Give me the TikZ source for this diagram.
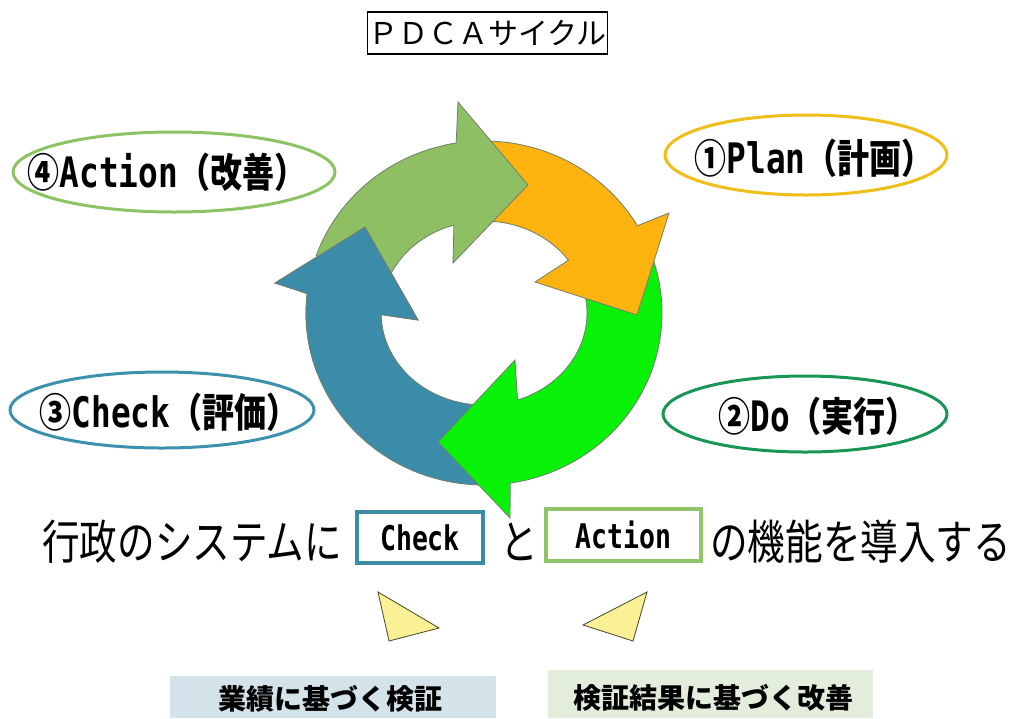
\documentclass[tikz,border=0pt]{standalone}
\usepackage{fontspec}
\usetikzlibrary{shapes.geometric}
\newfontfamily\jpr{Noto Sans CJK JP}
\newfontfamily\jpc{Noto Sans CJK JP}[FakeStretch=0.8]
\newfontfamily\lat{DejaVu Sans Mono}[FakeStretch=0.78]
\definecolor{cLG}{RGB}{142,192,99}
\definecolor{cOR}{RGB}{255,179,15}
\definecolor{cBG}{RGB}{8,242,8}
\definecolor{cBL}{RGB}{58,140,168}
\definecolor{cOut}{RGB}{115,125,110}
\definecolor{eA}{RGB}{140,195,100}
\definecolor{eP}{RGB}{240,190,25}
\definecolor{eC}{RGB}{60,145,175}
\definecolor{eD}{RGB}{25,150,85}
\definecolor{bxC}{RGB}{60,140,165}
\definecolor{bxA}{RGB}{145,195,105}
\definecolor{triY}{RGB}{250,240,150}
\definecolor{triO}{RGB}{70,70,40}
\definecolor{bgL}{RGB}{212,227,234}
\definecolor{bgR}{RGB}{227,237,219}
\newcommand\lab[3]{{\jpc\bfseries\fontsize{40}{44}\selectfont #1}{\lat\bfseries\fontsize{42}{46}\selectfont #2}{\jpc\bfseries\fontsize{40}{44}\selectfont #3}}
\tikzset{
  ringarrow/.style={draw=cOut, line width=0.8pt, line join=miter},
  lblring/.style={draw, ellipse, line width=3pt, inner sep=0pt},
  lbltext/.style={inner sep=0pt},
  wordbox/.style={draw, line width=3.5pt, fill=white, inner sep=0pt, font=\lat\bfseries\fontsize{34}{38}\selectfont},
  sent/.style={inner sep=0pt, font=\jpc\fontsize{47}{52}\selectfont},
  pointer/.style={fill=triY, draw=triO, line width=0.8pt, line join=miter},
  notebox/.style={inner sep=0pt, font=\jpr\bfseries\fontsize{28}{32}\selectfont}
}
\begin{document}
\begin{tikzpicture}[x=1pt, y=1pt]
\fill[white] (0,0) rectangle (1016,-718);
\useasboundingbox (0,0) rectangle (1016,-718);

% title
\node[draw, line width=1.5pt, minimum width=240pt, minimum height=42pt, inner sep=0pt,
      font=\jpr\fontsize{30}{32}\selectfont] (title) at (487.5,-33) {ＰＤＣＡサイクル};

% ring arrows
\begin{scope}[shift={(484,-313)}]
\newcommand\bluearrow{(-85:178pt and 172pt) arc[start angle=-85, end angle=-186.5, x radius=178pt, y radius=172pt]
   -- (-209,30) -- (-119,86) -- (-66,-7)
   -- (-179:103pt and 92pt) arc[start angle=-179, end angle=-85, x radius=103pt, y radius=92pt] -- cycle}
\draw[ringarrow, fill=cBL] \bluearrow;
\draw[ringarrow, fill=cBG] (25:178pt and 172pt) arc[start angle=25, end angle=-81.5, x radius=178pt, y radius=172pt]
   -- (26,-205) -- (-46,-129) -- (31,-47)
   -- (-71:103pt and 92pt) arc[start angle=-71, end angle=25, x radius=103pt, y radius=92pt] -- cycle;
\draw[ringarrow, fill=cOR] (103:178pt and 172pt) arc[start angle=103, end angle=30.5, x radius=178pt, y radius=172pt]
   -- (185,100) -- (153,-2) -- (51,31)
   -- (35:103pt and 92pt) arc[start angle=35, end angle=110, x radius=103pt, y radius=92pt] -- cycle;
\draw[ringarrow, fill=cLG] (160.5:178pt and 172pt) arc[start angle=160.5, end angle=99, x radius=178pt, y radius=172pt]
   -- (-26,211) -- (44,128) -- (-31,50)
   -- (107:103pt and 92pt) arc[start angle=107, end angle=160, x radius=103pt, y radius=92pt] -- cycle;
\begin{scope}
\clip (-260,-60) rectangle (0,150);
\draw[ringarrow, fill=cBL] \bluearrow;
\end{scope}
\end{scope}

% phase labels
\node[lblring, draw=eA, minimum width=322pt, minimum height=80pt] (ringA) at (174,-172) {};
\node[lbltext] (labA) at (167,-172) {\lab{④}{Action}{（改善）}};
\node[lblring, draw=eP, minimum width=282pt, minimum height=80pt] (ringP) at (806,-155) {};
\node[lbltext] (labP) at (814,-158) {\lab{①}{Plan}{（計画）}};
\node[lblring, draw=eC, minimum width=304pt, minimum height=76pt] (ringC) at (162,-410) {};
\node[lbltext] (labC) at (169,-412) {\lab{③}{Check}{（評価）}};
\node[lblring, draw=eD, minimum width=284pt, minimum height=76pt] (ringD) at (805,-414) {};
\node[lbltext] (labD) at (818,-416) {\lab{②}{Do}{（実行）}};

% sentence
\node[sent, anchor=west] (s1) at (42,-542) {行政のシステムに};
\node[wordbox, draw=bxC, minimum width=126pt, minimum height=51pt] (chk) at (420,-537.5) {Check};
\node[sent] (s2) at (519.5,-542) {と};
\node[wordbox, draw=bxA, minimum width=155pt, minimum height=52pt] (act) at (623.5,-535) {Action};
\node[sent, anchor=west] (s3) at (710,-542) {の機能を導入する};

% pointers
\draw[pointer] (378,-592) -- (439,-628) -- (389,-641) -- cycle;
\draw[pointer] (647,-592) -- (583,-625) -- (633,-641) -- cycle;

% notes
\node[fill=bgL, minimum width=326pt, minimum height=42pt, inner sep=0pt, anchor=north west] (nL) at (170,-676) {};
\node[notebox] (nLt) at (330,-699) {業績に基づく検証};
\node[fill=bgR, minimum width=325pt, minimum height=48pt, inner sep=0pt, anchor=north west] (nR) at (548,-670) {};
\node[notebox] (nRt) at (713,-698) {検証結果に基づく改善};
\end{tikzpicture}
\end{document}
